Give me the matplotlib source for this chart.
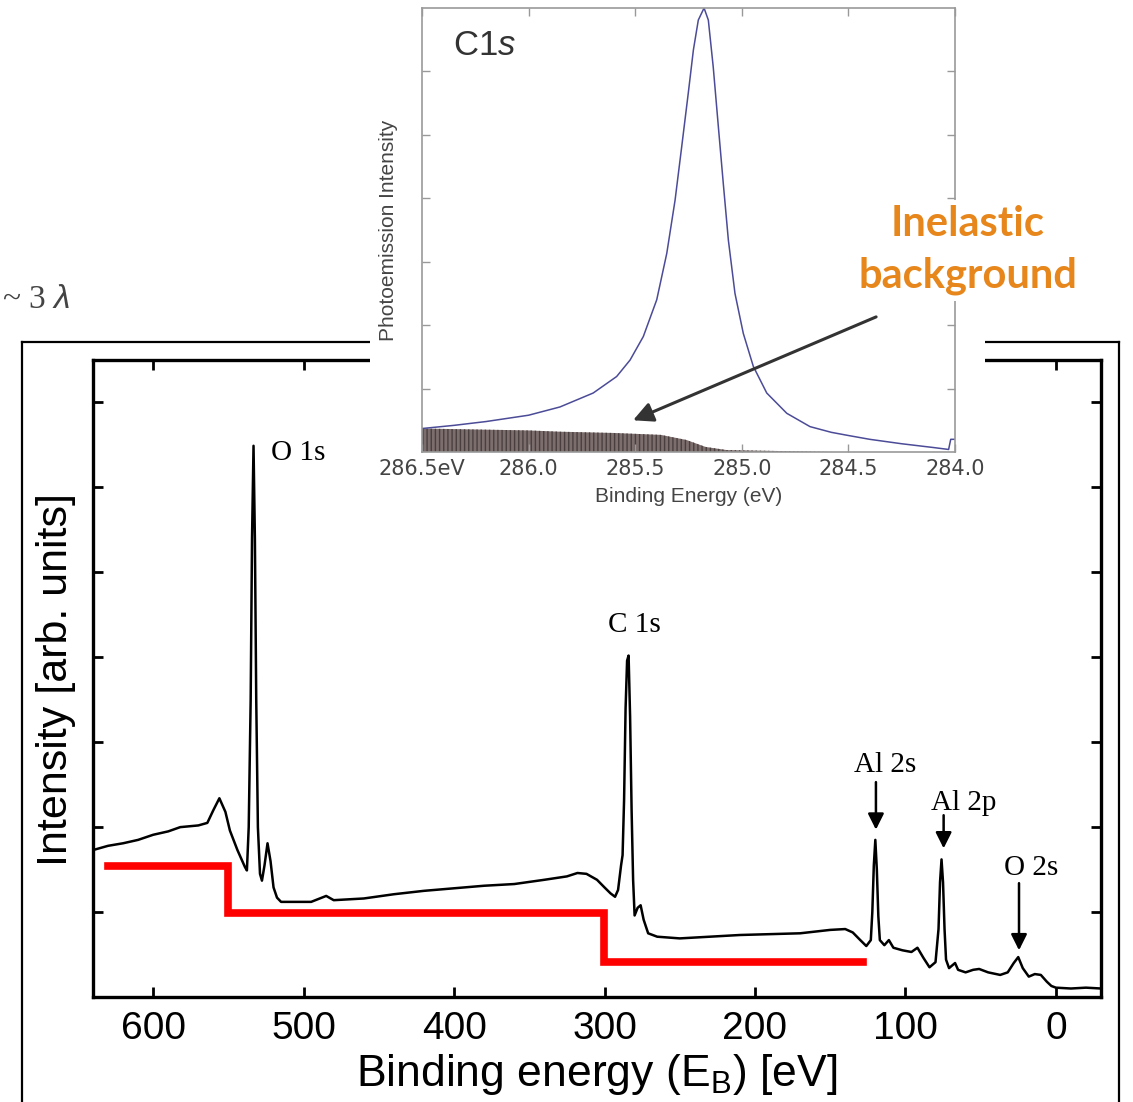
import numpy as np
import matplotlib
matplotlib.use('Agg')
from matplotlib import pyplot as plt
from matplotlib.patches import Rectangle

plt.rcParams['mathtext.fontset'] = 'custom'
plt.rcParams['mathtext.rm'] = 'Liberation Sans'
plt.rcParams['mathtext.it'] = 'Liberation Sans:italic'

#
# Survey spectrum (binding energy in eV, intensity in arb. units)
#
survey_ev = [640, 630, 620, 610, 600, 590, 582, 570, 564, 560, 556, 552, 549, 544, 539, 537.7,
             536.5, 535.2, 534.3, 533.3, 532.4, 531.5, 530.4, 529, 527.7, 526, 524, 522, 520,
             517.7, 515, 505, 495, 485, 480, 460, 440, 420, 400, 380, 360, 340, 325, 318, 312,
             305, 300, 296, 293, 291, 289, 288, 287, 286, 285, 284, 283, 282, 281, 280, 278, 276,
             274, 271, 265, 250, 230, 210, 190, 170, 150, 140, 135, 130, 126, 123, 122, 121, 120,
             119, 118, 117, 114, 111, 108, 102, 96, 92, 88, 84, 80, 78, 77, 76, 75, 74, 73, 71,
             67, 65, 60, 55, 51, 45, 37, 32, 28, 25, 22, 18, 14, 10, 6, 3, 0, -10, -20, -30]
survey_int = [1.73, 1.78, 1.81, 1.85, 1.91, 1.95, 2.00, 2.02, 2.05, 2.20, 2.34, 2.18, 1.96,
              1.73, 1.53, 1.49, 2.00, 3.50, 5.40, 6.49, 5.40, 3.50, 2.00, 1.45, 1.37, 1.55,
              1.81, 1.60, 1.29, 1.17, 1.12, 1.12, 1.12, 1.19, 1.14, 1.16, 1.21, 1.25, 1.28,
              1.31, 1.33, 1.38, 1.42, 1.46, 1.45, 1.38, 1.29, 1.22, 1.18, 1.26, 1.55, 1.67,
              2.32, 3.40, 3.96, 4.02, 3.30, 2.20, 1.38, 0.96, 1.05, 1.08, 0.91, 0.75, 0.71,
              0.69, 0.71, 0.73, 0.74, 0.75, 0.79, 0.80, 0.76, 0.67, 0.60, 0.67, 1.00, 1.55,
              1.85, 1.50, 0.95, 0.67, 0.61, 0.67, 0.58, 0.55, 0.53, 0.58, 0.46, 0.35, 0.41,
              0.80, 1.35, 1.62, 1.35, 0.80, 0.44, 0.34, 0.40, 0.32, 0.29, 0.32, 0.33, 0.29,
              0.26, 0.29, 0.40, 0.47, 0.34, 0.24, 0.27, 0.26, 0.18, 0.13, 0.11, 0.10, 0.11,
              0.10]

# inelastic background steps
step_ev = [630, 550, 300.5, 128]
step_int = [1.54, 0.99, 0.41, 0.41]

x_ticks = [600, 500, 400, 300, 200, 100, 0]
y_ticks = [1, 2, 3, 4, 5, 6, 7]

peak_labels = ['O 1s', 'C 1s', 'Al 2s', 'Al 2p', 'O 2s']
label_ev = [522, 280, 113.5, 61.5, 16.5]
label_int = [6.41, 4.38, 2.73, 2.29, 1.52]
arrow_ev = [119.6, 74.6, 24.5]
arrow_top = [2.53, 2.14, 1.34]
arrow_tip = [1.97, 1.75, 0.55]

#
# C1s detail spectrum (inset)
#
c1s_ev = [286.5, 286.35, 286.2, 286.0, 285.853, 285.697, 285.587, 285.524, 285.462, 285.399,
          285.352, 285.313, 285.282, 285.251, 285.227, 285.204, 285.177, 285.157, 285.134,
          285.110, 285.087, 285.063, 285.032, 284.993, 284.946, 284.883, 284.789, 284.680,
          284.58, 284.5, 284.4, 284.25, 284.1, 284.03, 284.02, 284.0]
c1s_int = [0.37, 0.42, 0.48, 0.58, 0.71, 0.93, 1.19, 1.45, 1.82, 2.40, 3.13, 3.97, 4.81, 5.66,
           6.34, 6.81, 7.00, 6.81, 6.07, 5.13, 4.24, 3.34, 2.50, 1.87, 1.35, 0.93, 0.61, 0.40,
           0.31, 0.26, 0.20, 0.13, 0.07, 0.04, 0.20, 0.20]
bg_ev = [286.5, 286.0, 285.853, 285.6, 285.38, 285.26, 285.17, 285.07, 284.9, 284.58, 284.0]
bg_int = [0.37, 0.34, 0.32, 0.30, 0.27, 0.19, 0.08, 0.03, 0.02, 0.0, 0.0]
inset_ticks = [286.5, 286.0, 285.5, 285.0, 284.5, 284.0]
inset_ticklabels = ['286.5eV', '286.0', '285.5', '285.0', '284.5', '284.0']

W, H = 1133, 1102
fig = plt.figure(figsize=(W / 100, H / 100), dpi=100)

def fx(px):
    return px / W

def fy(py):
    return 1 - py / H

# outer frame of the pasted figure
for seg in [([22, 22], [342, 1110]), ([22, 1119], [342, 342]), ([1119, 1119], [342, 1110])]:
    fig.add_artist(plt.Line2D([fx(v) for v in seg[0]], [fy(v) for v in seg[1]],
                              color='black', lw=1.6, zorder=0.5))

fig.text(fx(2), fy(300), '~ 3 $\\lambda$', fontsize=24, family='Liberation Serif',
         color='#444444', va='center', ha='left')

# main survey spectrum
ax = fig.add_axes([fx(93), fy(997), fx(1101) - fx(93), fy(360) - fy(997)], zorder=1)
ax.plot(survey_ev, survey_int, color='black', lw=1.8)
ax.plot(step_ev, step_int, color='#ff0000', lw=5.5, drawstyle='steps-post', solid_joinstyle='miter')
ax.set_xlim(640, -30)
ax.set_ylim(0, 7.5)
ax.set_xticks(x_ticks)
ax.set_yticks(y_ticks)
ax.set_yticklabels([])
ax.tick_params(direction='in', length=7, width=2, top=True, right=True, pad=10,
               labelsize=28)
for lab in ax.get_xticklabels():
    lab.set_family('Liberation Sans')
for s in ax.spines.values():
    s.set_linewidth(2.4)
ax.set_xlabel('Binding energy (E$_\\mathrm{B}$) [eV]', fontsize=32, family='Liberation Sans',
              va='center')
ax.xaxis.set_label_coords(0.5, -0.122)
ax.set_ylabel('Intensity [arb. units]', fontsize=31, family='Liberation Sans', va='center')
ax.yaxis.set_label_coords(-0.037, 0.498)

for i, name in enumerate(peak_labels):
    ha = 'left' if i == 0 else 'center'
    ax.text(label_ev[i], label_int[i], name, fontsize=21, family='Liberation Serif',
            ha=ha, va='center')
for xa, top, tip in zip(arrow_ev, arrow_top, arrow_tip):
    ax.annotate('', xy=(xa, tip), xytext=(xa, top),
                arrowprops=dict(arrowstyle='-|>', color='black', lw=1.8, mutation_scale=24,
                                shrinkA=0, shrinkB=0))

# white backing of the pasted inset
fig.add_artist(Rectangle((fx(370), fy(520)), fx(985) - fx(370), 1 - fy(520),
                         transform=fig.transFigure, facecolor='white', edgecolor='none',
                         zorder=2))

# inset: C1s core level
axi = fig.add_axes([fx(422), fy(452), fx(955) - fx(422), fy(8) - fy(452)], zorder=3)
axi.fill_between(bg_ev, bg_int, 0, facecolor='#7d6e6e', edgecolor='#4a3f3f', hatch='||||',
                 lw=0)
axi.plot(c1s_ev, c1s_int, color='#4b4b98', lw=1.1)
axi.set_xlim(286.5, 284.0)
axi.set_ylim(0, 7)
axi.set_xticks(inset_ticks)
axi.set_xticklabels(inset_ticklabels)
axi.set_yticks([1, 2, 3, 4, 5, 6])
axi.set_yticklabels([])
axi.tick_params(direction='in', length=6, width=1, color='#999999', top=True, right=True,
                labelsize=15, labelcolor='#444444', pad=5)
for s in axi.spines.values():
    s.set_color('#999999')
    s.set_linewidth(1.2)
axi.set_xlabel('Binding Energy (eV)', fontsize=15, color='#444444', family='Liberation Sans',
               labelpad=6)
axi.set_ylabel('Photoemission Intensity', fontsize=15, color='#444444',
               family='Liberation Sans', labelpad=12)
axi.text(0.058, 0.915, 'C1$\\mathit{s}$', transform=axi.transAxes, fontsize=25,
         color='#333333', family='Liberation Sans', va='center')
axi.annotate('', xy=(285.51, 0.50), xytext=(284.37, 2.13),
             arrowprops=dict(arrowstyle='-|>', color='#333333', lw=2.2, mutation_scale=30,
                             shrinkA=0, shrinkB=0), annotation_clip=False)

fig.text(fx(968), fy(250), 'Inelastic\nbackground', fontsize=30, family='Lato', weight='bold',
         color='#E6861B', ha='center', va='center', linespacing=1.45, zorder=5,
         bbox=dict(facecolor='white', edgecolor='none', pad=4))

fig.savefig('out.png', dpi=100)
